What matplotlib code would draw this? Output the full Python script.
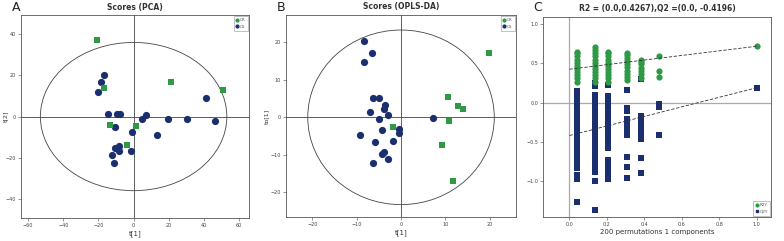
import matplotlib
matplotlib.use('Agg')
import matplotlib.pyplot as plt
from matplotlib.patches import Ellipse

# --- PCA scores (panel A) ---
pca_cr_t1 = [-20.8, -17.0, 21.3, 50.6, -13.2, 1.3, -4.0]
pca_cr_t2 = [37.1, 13.8, 16.7, 12.9, -3.9, -4.5, -13.8]
pca_cs_t1 = [-16.8, -18.5, -20.0, -14.5, -9.4, -7.5, -10.6, 4.9, 7.2, 19.6, 30.4,
             40.9, 46.0, 13.2, -1.1, -1.5, -8.5, -10.8, -8.1, -12.5, -11.1]
pca_cs_t2 = [19.9, 16.5, 11.7, 1.4, 1.1, 1.4, -5.0, -1.1, 0.8, -1.4, -1.4,
             9.0, -2.2, -8.8, -7.7, -16.7, -14.1, -15.1, -16.5, -18.6, -22.5]
pca_ellipse = (53.0, 35.8)

# --- OPLS-DA scores (panel B) ---
opls_cr_t1 = [19.9, 10.6, 12.9, 14.0, 10.75, 9.2, 11.6, -1.9]
opls_cr_to = [17.3, 5.3, 3.1, 2.1, -1.0, -7.5, -17.1, -2.6]
opls_cs_t1 = [-8.4, -6.5, -8.3, -6.2, -5.0, -3.5, -3.8, -3.0, -6.9, -5.0, 7.1,
              -4.3, -0.5, -0.5, -9.3, -5.9, -1.7, -3.8, -4.3, -2.9, -6.3]
opls_cs_to = [20.5, 17.2, 14.8, 5.1, 5.1, 3.4, 2.1, 0.7, 1.4, -0.4, -0.1,
              -3.3, -3.0, -4.1, -4.6, -6.5, -6.3, -9.3, -9.8, -11.2, -12.2]
opls_ellipse = (21.0, 23.3)

# --- permutation test (panel C): one column per correlation value ---
perm_x = [0.038, 0.136, 0.207, 0.306, 0.38, 0.48, 1.0]
r2y = [
    [0.27, 0.31, 0.35, 0.39, 0.43, 0.47, 0.51, 0.55, 0.59, 0.63, 0.65],
    [0.27, 0.31, 0.35, 0.39, 0.43, 0.47, 0.51, 0.55, 0.59, 0.63, 0.67, 0.71],
    [0.27, 0.31, 0.35, 0.39, 0.43, 0.47, 0.51, 0.55, 0.59, 0.63, 0.65],
    [0.29, 0.33, 0.37, 0.41, 0.45, 0.49, 0.53, 0.57, 0.61, 0.63],
    [0.31, 0.36, 0.41, 0.44, 0.49, 0.52, 0.55],
    [0.60, 0.41, 0.33],
    [0.72],
]
q2y = [
    [0.15, 0.10, 0.05, 0.0, -0.05, -0.10, -0.15, -0.20, -0.25, -0.30, -0.35,
     -0.40, -0.45, -0.50, -0.55, -0.60, -0.64, -0.69, -0.74, -0.79, -0.84,
     -0.93, -0.98, -1.27],
    [0.25, 0.21, 0.10, 0.05, 0.0, -0.05, -0.10, -0.15, -0.20, -0.25, -0.30,
     -0.35, -0.40, -0.45, -0.50, -0.55, -0.60, -0.65, -0.70, -0.75, -0.80,
     -0.85, -0.88, -1.0, -1.37],
    [0.22, 0.08, 0.03, -0.02, -0.07, -0.12, -0.17, -0.22, -0.27, -0.32, -0.37,
     -0.42, -0.46, -0.49, -0.54, -0.58, -0.73, -0.78, -0.83, -0.88, -0.93, -0.97],
    [0.16, -0.07, -0.11, -0.21, -0.26, -0.31, -0.36, -0.41, -0.69, -0.82, -0.96],
    [0.30, -0.17, -0.22, -0.27, -0.32, -0.37, -0.42, -0.47, -0.71, -0.90],
    [-0.02, -0.06, -0.41],
    [0.19],
]
r2_line = (0.4267, 0.72)
q2_line = (-0.4196, 0.19)

GREEN = '#2e9a45'
NAVY = '#1b2f6e'
FRAME = '#555555'

fig = plt.figure(figsize=(7.84, 2.41), dpi=100)
axA = fig.add_axes([0.0268, 0.0954, 0.2908, 0.842])
axB = fig.add_axes([0.3648, 0.0996, 0.2934, 0.838])
axC = fig.add_axes([0.6926, 0.0996, 0.2908, 0.830])


def style(ax):
    for s in ax.spines.values():
        s.set_color(FRAME)
        s.set_linewidth(0.6)
    ax.tick_params(labelsize=3.5, colors='#444444', length=2, width=0.4, pad=1.5)


def add_legend(ax, loc, labels, markers):
    hs = [plt.Line2D([], [], ls='none', marker=markers[0], color=GREEN, ms=2),
          plt.Line2D([], [], ls='none', marker=markers[1], color=NAVY, ms=2)]
    lg = ax.legend(hs, labels, loc=loc, fontsize=3, frameon=True, fancybox=False,
                   borderaxespad=0.3, handletextpad=0.2, borderpad=0.5,
                   handlelength=0.8, labelspacing=0.6, labelcolor='#555555')
    lg.get_frame().set_edgecolor('#777777')
    lg.get_frame().set_linewidth(0.4)


def scores(ax, cr_x, cr_y, cs_x, cs_y, ell, xlim, ylim, xt, yt, title, ylab, ylab_x):
    style(ax)
    ax.axhline(0, color='#444444', lw=0.6)
    ax.axvline(0, color='#444444', lw=0.6)
    ax.add_patch(Ellipse((0, 0), 2 * ell[0], 2 * ell[1], fill=False,
                         edgecolor='#444444', lw=0.6))
    ax.scatter(cs_x, cs_y, s=27, marker='o', color=NAVY, lw=0, zorder=3)
    ax.scatter(cr_x, cr_y, s=25, marker='s', color=GREEN, lw=0, zorder=3)
    ax.set_xlim(*xlim)
    ax.set_ylim(*ylim)
    ax.set_xticks(xt)
    ax.set_yticks(yt)
    ax.set_title(title, fontsize=5.5, fontweight='bold', color='#333333', pad=4)
    ax.set_xlabel('t[1]', fontsize=5, color='#333333', labelpad=1.5)
    ax.set_ylabel(ylab, fontsize=4.5, color='#333333', va='center')
    ax.yaxis.set_label_coords(ylab_x, 0.5)
    add_legend(ax, 'upper right', ['CR', 'CS'], ['o', 'o'])


scores(axA, pca_cr_t1, pca_cr_t2, pca_cs_t1, pca_cs_t2, pca_ellipse,
       (-64, 65.6), (-49, 49), [-60, -40, -20, 0, 20, 40, 60], [-40, -20, 0, 20, 40],
       'Scores (PCA)', 't[2]', -0.068)
scores(axB, opls_cr_t1, opls_cr_to, opls_cs_t1, opls_cs_to, opls_ellipse,
       (-25.9, 25.9), (-26.6, 27.3), [-20, -10, 0, 10, 20], [-20, -10, 0, 10, 20],
       'Scores (OPLS-DA)', 'to[1]', -0.085)

# panel C
style(axC)
axC.axhline(0, color='#aaaaaa', lw=0.9)
axC.axvline(0, color='#aaaaaa', lw=0.9)
for x, ys in zip(perm_x, q2y):
    axC.scatter([x] * len(ys), ys, s=20, marker='s', color=NAVY, lw=0, zorder=3)
for x, ys in zip(perm_x, r2y):
    axC.scatter([x] * len(ys), ys, s=20, marker='o', color=GREEN, lw=0, zorder=3)
axC.plot([0, 1], r2_line, ls=(0, (4, 2)), color='#333333', lw=0.6, zorder=4)
axC.plot([0, 1], q2_line, ls=(0, (4, 2)), color='#333333', lw=0.6, zorder=4)
axC.set_xlim(-0.1415, 1.077)
axC.set_ylim(-1.46, 1.094)
axC.set_xticks([0.0, 0.2, 0.4, 0.6, 0.8, 1.0])
axC.set_yticks([-1.0, -0.5, 0.0, 0.5, 1.0])
axC.set_title('R2 = (0.0,0.4267),Q2 =(0.0, -0.4196)', fontsize=5.5,
              fontweight='bold', color='#333333', pad=4)
axC.set_xlabel('200 permutations 1 components', fontsize=5, color='#333333',
               labelpad=1.5)
add_legend(axC, 'lower right', ['R2Y', 'Q2Y'], ['o', 's'])

for ax, lab in zip([axA, axB, axC], 'ABC'):
    fig.text(ax.get_position().x0 - 0.012, 0.995, lab, fontsize=9,
             color='#222222', va='top')

fig.savefig('out.png', dpi=100)
